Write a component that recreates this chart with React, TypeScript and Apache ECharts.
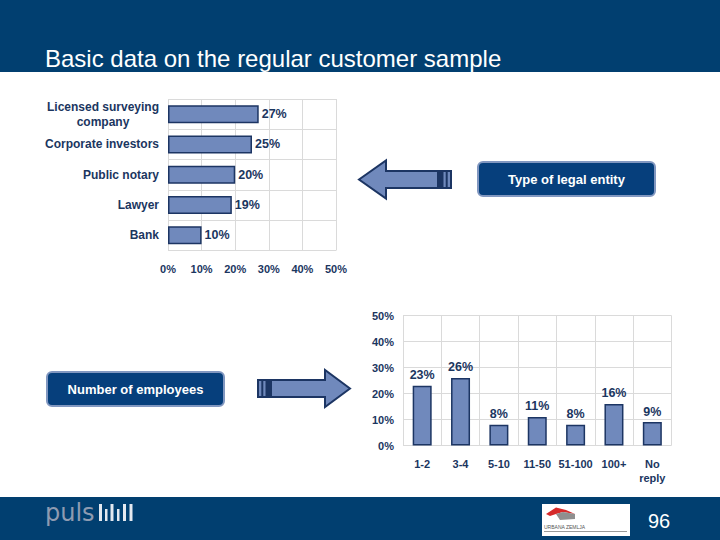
import React, { useEffect, useRef } from 'react';
import * as echarts from 'echarts';

const entityTypes = ['Licensed surveying\ncompany', 'Corporate investors', 'Public notary', 'Lawyer', 'Bank'];
const entityShares = [27, 25, 20, 19, 10];
const employeeBands = ['1-2', '3-4', '5-10', '11-50', '51-100', '100+', 'No\nreply'];
const employeeShares = [23, 26, 8, 11, 8, 16, 9];
const percentTicks = [0, 10, 20, 30, 40, 50];

const titleText = 'Basic data on the regular customer sample';
const entityBoxText = 'Type of legal entity';
const employeesBoxText = 'Number of employees';
const pageNumber = '96';

const NAVY = '#1b365f';
const HEADER = '#013f70';
const BAR = '#7089bc';
const BAR_BORDER = '#1c3563';
const GRID = '#dadada';
const FONT = '"Liberation Sans", Arial, sans-serif';

export default function App() {
  const ref = useRef<HTMLDivElement>(null);
  useEffect(() => {
    if (!ref.current) return;
    const chart = echarts.init(ref.current, undefined, { renderer: 'svg' });
    const tMin = percentTicks[0];
    const tMax = percentTicks[percentTicks.length - 1];
    const tInt = percentTicks[1] - percentTicks[0];
    const axisLabelStyle = { color: NAVY, fontWeight: 'bold', fontSize: 11, fontFamily: FONT };

    const leftArrow = (tipX: number, baseX: number, endX: number, cy: number, headH: number, shaftH: number) => [
      [tipX, cy], [baseX, cy - headH / 2], [baseX, cy - shaftH / 2], [endX, cy - shaftH / 2],
      [endX, cy + shaftH / 2], [baseX, cy + shaftH / 2], [baseX, cy + headH / 2],
    ];

    const option: any = {
      animation: false,
      textStyle: { fontFamily: FONT },
      grid: [
        { left: 168, right: 384, top: 99, bottom: 289.5 },
        { left: 403, right: 48.5, top: 315.5, bottom: 94.5 },
      ],
      xAxis: [
        {
          gridIndex: 0, type: 'value', min: tMin, max: tMax, interval: tInt,
          axisLine: { show: false }, axisTick: { show: false },
          splitLine: { show: true, lineStyle: { color: GRID, width: 1 } },
          axisLabel: { ...axisLabelStyle, margin: 13, formatter: '{value}%' },
        },
        {
          gridIndex: 1, type: 'category', data: employeeBands,
          axisLine: { show: false }, axisTick: { show: false },
          splitLine: { show: true, lineStyle: { color: GRID, width: 1 } },
          axisLabel: { ...axisLabelStyle, margin: 11, lineHeight: 14, interval: 0 },
        },
      ],
      yAxis: [
        {
          gridIndex: 0, type: 'category', data: entityTypes, inverse: true,
          axisLine: { show: false }, axisTick: { show: false },
          splitLine: { show: true, lineStyle: { color: GRID, width: 1 } },
          axisLabel: {
            ...axisLabelStyle, fontSize: 12, margin: 9, interval: 0,
            formatter: (v: string) => v.split('\n').map((s) => `{c|${s}}`).join('\n'),
            rich: { c: { align: 'center', color: NAVY, fontWeight: 'bold', fontSize: 12, fontFamily: FONT, lineHeight: 15 } },
          },
        },
        {
          gridIndex: 1, type: 'value', min: tMin, max: tMax, interval: tInt,
          axisLine: { show: false }, axisTick: { show: false },
          splitLine: { show: true, lineStyle: { color: GRID, width: 1 } },
          axisLabel: { ...axisLabelStyle, margin: 9, formatter: '{value}%' },
        },
      ],
      series: [
        {
          type: 'bar', xAxisIndex: 0, yAxisIndex: 0, data: entityShares, barWidth: 18,
          itemStyle: { color: BAR, borderColor: BAR_BORDER, borderWidth: 1.5 },
          label: { show: true, position: 'right', distance: 3, formatter: '{c}%', color: NAVY, fontWeight: 'bold', fontSize: 12.5, fontFamily: FONT },
        },
        {
          type: 'bar', xAxisIndex: 1, yAxisIndex: 1, data: employeeShares, barWidth: 19,
          itemStyle: { color: BAR, borderColor: BAR_BORDER, borderWidth: 1.5 },
          label: { show: true, position: 'top', distance: 4, formatter: '{c}%', color: NAVY, fontWeight: 'bold', fontSize: 12.5, fontFamily: FONT },
        },
      ],
      graphic: [
        // header
        { type: 'rect', shape: { x: 0, y: 0, width: 720, height: 72 }, style: { fill: HEADER }, silent: true },
        { type: 'text', x: 45, y: 58.5, style: { text: titleText, fill: '#ffffff', fontSize: 24, fontFamily: FONT, align: 'left', verticalAlign: 'middle' } },
        // footer
        { type: 'rect', shape: { x: 0, y: 497, width: 720, height: 43 }, style: { fill: HEADER }, silent: true },
        { type: 'text', x: 45, y: 512.5, style: { text: 'puls', fill: '#8e9bb1', fontSize: 24, fontFamily: '"DejaVu Sans", sans-serif', align: 'left', verticalAlign: 'middle' } },
        { type: 'rect', shape: { x: 99, y: 504, width: 3, height: 17 }, style: { fill: '#e4e9f0' } },
        { type: 'rect', shape: { x: 105, y: 509, width: 2.5, height: 12 }, style: { fill: '#e4e9f0' } },
        { type: 'rect', shape: { x: 110.5, y: 504, width: 3, height: 17 }, style: { fill: '#e4e9f0' } },
        { type: 'rect', shape: { x: 117, y: 509, width: 2.5, height: 12 }, style: { fill: '#e4e9f0' } },
        { type: 'rect', shape: { x: 123, y: 504, width: 3, height: 17 }, style: { fill: '#e4e9f0' } },
        { type: 'rect', shape: { x: 129.5, y: 504, width: 3, height: 17 }, style: { fill: '#e4e9f0' } },
        // logo
        { type: 'rect', shape: { x: 542, y: 504, width: 88, height: 32 }, style: { fill: '#ffffff' } },
        { type: 'polygon', shape: { points: [[546, 514], [556, 507.5], [566, 510], [575, 514], [563, 512], [556, 514], [550, 516]] }, style: { fill: '#d62a2a' } },
        { type: 'polygon', shape: { points: [[556, 514], [563, 512], [575, 514], [575, 519], [560, 520]] }, style: { fill: '#8f8f8f' } },
        { type: 'text', x: 544, y: 527, style: { text: 'URBANA ZEMLJA', fill: '#555555', fontSize: 5, fontFamily: FONT, align: 'left', verticalAlign: 'middle' } },
        { type: 'rect', shape: { x: 544, y: 531, width: 83, height: 1 }, style: { fill: '#9a9a9a' } },
        { type: 'text', x: 648, y: 521, style: { text: pageNumber, fill: '#ffffff', fontSize: 20, fontFamily: FONT, align: 'left', verticalAlign: 'middle' } },
        // left arrow (Type of legal entity)
        { type: 'polygon', shape: { points: leftArrow(359, 386, 451, 179.5, 38, 17) }, style: { fill: BAR, stroke: BAR_BORDER, lineWidth: 2 } },
        { type: 'rect', shape: { x: 437, y: 171, width: 6.5, height: 17 }, style: { fill: BAR_BORDER } },
        { type: 'rect', shape: { x: 445.7, y: 171, width: 2, height: 17 }, style: { fill: BAR_BORDER } },
        { type: 'rect', shape: { x: 478, y: 162, width: 177, height: 34, r: 5 }, style: { fill: '#063f7c', stroke: '#8197c0', lineWidth: 2 } },
        { type: 'text', x: 566.5, y: 179.5, style: { text: entityBoxText, fill: '#ffffff', fontSize: 13, fontWeight: 'bold', fontFamily: FONT, align: 'center', verticalAlign: 'middle' } },
        // right arrow (Number of employees)
        { type: 'polygon', shape: { points: leftArrow(350, 325, 258, 388.5, 37, 17) }, style: { fill: BAR, stroke: BAR_BORDER, lineWidth: 2 } },
        { type: 'rect', shape: { x: 265.5, y: 380, width: 6.5, height: 17 }, style: { fill: BAR_BORDER } },
        { type: 'rect', shape: { x: 261.3, y: 380, width: 2, height: 17 }, style: { fill: BAR_BORDER } },
        { type: 'rect', shape: { x: 47, y: 372, width: 177, height: 34, r: 5 }, style: { fill: '#063f7c', stroke: '#8197c0', lineWidth: 2 } },
        { type: 'text', x: 135.5, y: 389, style: { text: employeesBoxText, fill: '#ffffff', fontSize: 13, fontWeight: 'bold', fontFamily: FONT, align: 'center', verticalAlign: 'middle' } },
      ],
    };
    chart.setOption(option);
    return () => chart.dispose();
  }, []);
  return <div ref={ref} style={{ position: 'fixed', left: 0, top: 0, width: 720, height: 540, background: '#ffffff' }} />;
}
